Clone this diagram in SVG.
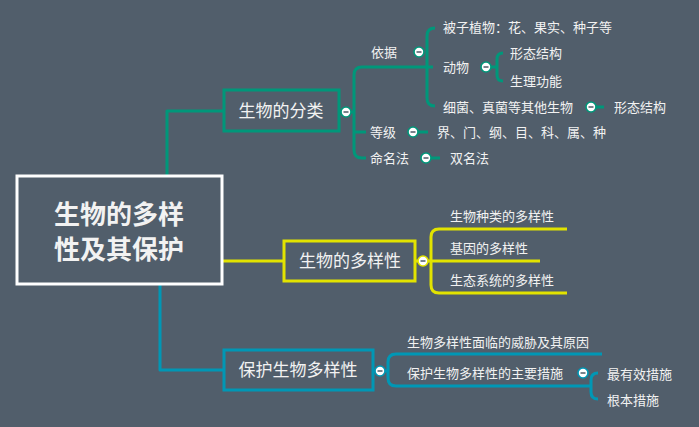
<svg xmlns="http://www.w3.org/2000/svg" width="699" height="427" viewBox="0 0 699 427">
<style>
text{font-family:"Noto Sans CJK SC","Noto Sans CJK TC",sans-serif;fill:#f2f2f2}
.t{font-size:13px}
.n{font-size:17px;text-anchor:middle}
.g{stroke:#00977a}
.y{stroke:#e2e300}
.b{stroke:#0097b5}
.ln{fill:none;stroke-width:3;stroke-linejoin:round;stroke-linecap:butt}
.c{fill:#ffffff;stroke-width:1.6}
.m{stroke:#5a6570;stroke-width:1.6}
</style>
<rect x="0" y="0" width="699" height="427" fill="#515e6b"/>

<g id="connectors">
<path class="ln g" d="M167,176 V111 H224"/>
<path class="ln g" d="M339,112 H354"/>
<path class="ln g" d="M433,67 H362 Q354,67 354,75 V150 Q354,158 362,158 H366"/>
<path class="ln g" d="M354,132 H366"/>
<path class="ln g" d="M435,28 Q427,28 427,36 V98 Q427,106 435,106"/>
<path class="ln g" d="M491,67 H497"/>
<path class="ln g" d="M503,53 Q497,53 497,59 V75 Q497,81 503,81"/>
<path class="ln g" d="M596,107 H604"/>
<path class="ln g" d="M418,132 H428"/>
<path class="ln g" d="M431,158 H440"/>
<path class="ln y" d="M222,261 H284"/>
<path class="ln y" d="M416,261 H540"/>
<path class="ln y" d="M567,229 H439 Q431,229 431,237 V285 Q431,293 439,293 H567"/>
<path class="ln b" d="M160,284 V370 H224"/>
<path class="ln b" d="M373,371 H388"/>
<path class="ln b" d="M602,354 H396 Q388,354 388,362 V378 Q388,386 396,386 H591"/>
<path class="ln b" d="M598,373 Q591,373 591,380 V392 Q591,399 598,399"/>
</g>

<g id="root">
<rect x="17" y="176" width="205" height="108" fill="#515e6b" stroke="#ffffff" stroke-width="3"/>
<text x="119" y="224" font-size="26" font-weight="bold" text-anchor="middle">生物的多样</text>
<text x="119" y="259" font-size="26" font-weight="bold" text-anchor="middle">性及其保护</text>
</g>

<g id="node-classify">
<rect x="224" y="90" width="115" height="41" fill="#515e6b" class="g" stroke-width="3"/>
<text class="n" x="281" y="117">生物的分类</text>
<circle class="c g" cx="346" cy="112" r="5"/><path class="m" d="M343.5,112 H348.5"/>
</g>
<g id="node-basis">
<text class="t" x="371" y="57">依据</text>
<circle class="c g" cx="419" cy="52" r="5"/><path class="m" d="M416.5,52 H421.5"/>
</g>
<g id="node-angio"><text class="t" x="443" y="32">被子植物：花、果实、种子等</text></g>
<g id="node-animal">
<text class="t" x="443" y="72">动物</text>
<circle class="c g" cx="486" cy="67" r="5"/><path class="m" d="M483.5,67 H488.5"/>
</g>
<g id="node-animal-form"><text class="t" x="510" y="58">形态结构</text></g>
<g id="node-animal-func"><text class="t" x="510" y="86">生理功能</text></g>
<g id="node-other">
<text class="t" x="443" y="112">细菌、真菌等其他生物</text>
<circle class="c g" cx="591" cy="107" r="5"/><path class="m" d="M588.5,107 H593.5"/>
</g>
<g id="node-other-form"><text class="t" x="614" y="112">形态结构</text></g>
<g id="node-rank">
<text class="t" x="370" y="137">等级</text>
<circle class="c g" cx="413" cy="132" r="5"/><path class="m" d="M410.5,132 H415.5"/>
</g>
<g id="node-ranks"><text class="t" x="437" y="137">界、门、纲、目、科、属、种</text></g>
<g id="node-naming">
<text class="t" x="370" y="163">命名法</text>
<circle class="c g" cx="426" cy="158" r="5"/><path class="m" d="M423.5,158 H428.5"/>
</g>
<g id="node-binomial"><text class="t" x="450" y="163">双名法</text></g>

<g id="node-diversity">
<rect x="284" y="241" width="131" height="40" fill="#515e6b" class="y" stroke-width="3"/>
<text class="n" x="350" y="267">生物的多样性</text>
<circle class="c y" cx="423" cy="261" r="5"/><path class="m" d="M420.5,261 H425.5"/>
</g>
<g id="node-species"><text class="t" x="450" y="221">生物种类的多样性</text></g>
<g id="node-gene"><text class="t" x="450" y="253">基因的多样性</text></g>
<g id="node-eco"><text class="t" x="450" y="285">生态系统的多样性</text></g>

<g id="node-protect">
<rect x="224" y="350" width="149" height="40" fill="#515e6b" class="b" stroke-width="3"/>
<text class="n" x="298" y="376">保护生物多样性</text>
<circle class="c b" cx="380" cy="371" r="5"/><path class="m" d="M377.5,371 H382.5"/>
</g>
<g id="node-threat"><text class="t" x="407" y="347">生物多样性面临的威胁及其原因</text></g>
<g id="node-measures">
<text class="t" x="407" y="378">保护生物多样性的主要措施</text>
<circle class="c b" cx="583" cy="373" r="5"/><path class="m" d="M580.5,373 H585.5"/>
</g>
<g id="node-effective"><text class="t" x="607" y="379">最有效措施</text></g>
<g id="node-basic"><text class="t" x="607" y="405">根本措施</text></g>
</svg>
